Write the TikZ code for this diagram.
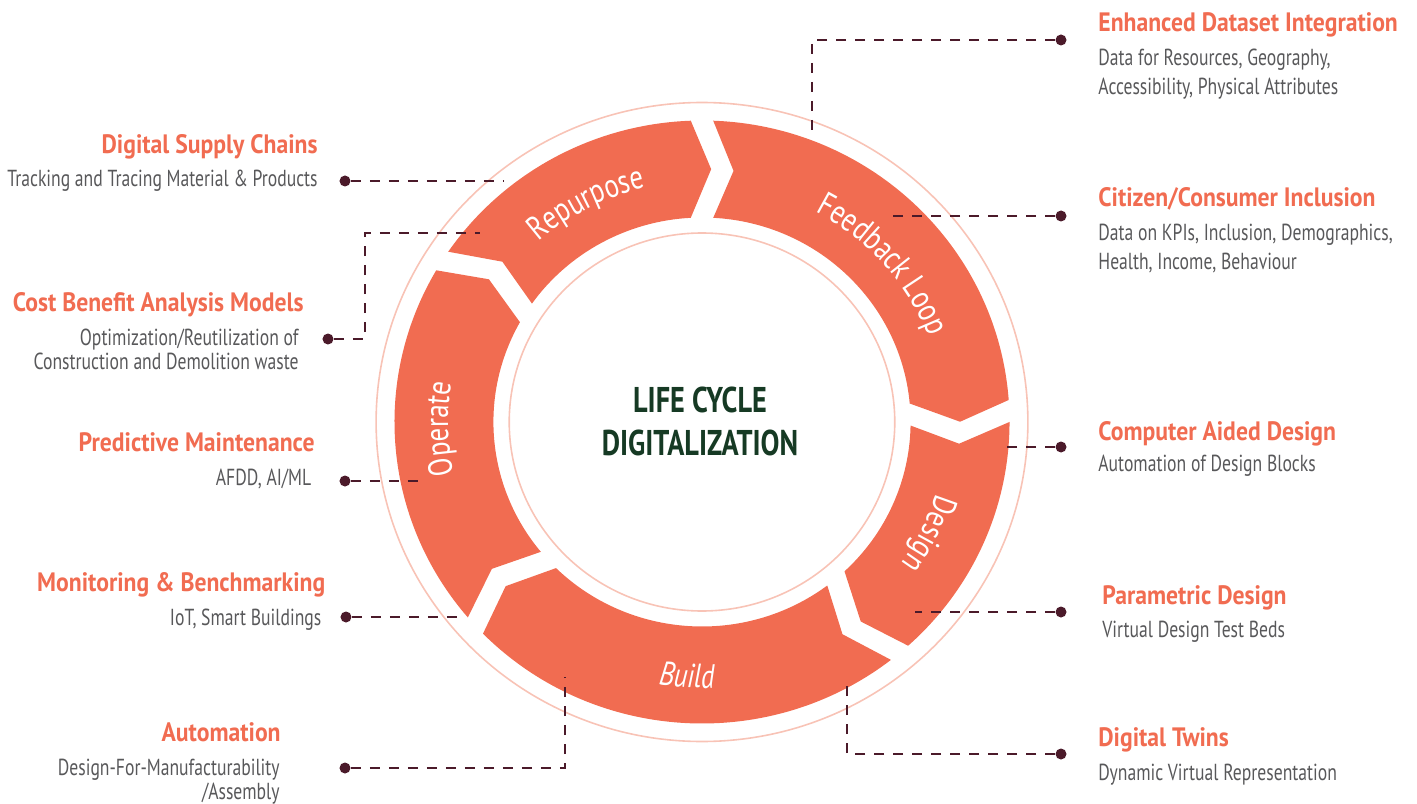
\documentclass[tikz,border=0pt]{standalone}
\usepackage{fontspec}
\usepackage{xcolor}
\usepackage{tikz}
\usetikzlibrary{decorations.text}
\setmainfont{PT Sans}
\newfontfamily\headfont{PT Sans}[FakeStretch=0.89]
\newfontfamily\bodyfont{PT Sans}[FakeStretch=0.76]
\newfontfamily\ringfont{PT Sans}[FakeStretch=0.80]
\newfontfamily\hubfont{PT Sans}[FakeStretch=0.79]
\definecolor{coral}{HTML}{F16C51}
\definecolor{ringpink}{HTML}{F8C3B6}
\definecolor{hubgreen}{HTML}{163A24}
\definecolor{bodygray}{HTML}{58585A}
\definecolor{leadline}{HTML}{4B1A2A}

% Flecha del ciclo: de la frontera #1 a la frontera #2 (en sentido horario)
\newcommand{\cyclearrow}[2]{%
  \fill[coral] ({#1-2.09}:301.5) arc[start angle={#1-2.09}, end angle={#2+2.09}, radius=301.5]
    -- ({#2-2.04}:253) -- ({#2+3.09}:204.5)
    arc[start angle={#2+3.09}, end angle={#1-3.09}, radius=204.5]
    -- ({#1-7.02}:253) -- cycle;}

\begin{document}
\begin{tikzpicture}[x=0.5pt, y=0.5pt,
    ring/.style={draw=ringpink, line width=0.8pt},
    lead/.style={draw=leadline, line width=0.75pt, dash pattern=on 5pt off 4.5pt},
    dot/.style={circle, fill=leadline, inner sep=0pt, minimum size=5.5pt},
    head/.style={inner sep=0pt, text=coral, font=\headfont\bfseries\fontsize{13.3}{15}\selectfont},
    body/.style={inner sep=0pt, text=bodygray, font=\bodyfont\fontsize{11.6}{12}\selectfont},
    bodyr/.style={body, font=\bodyfont\fontsize{11.6}{14.5}\selectfont},
    segtext/.style={decorate, decoration={text along path, text align=center,
        text={|\ringfont\fontsize{16.8}{18}\selectfont\color{white}|#1}}}]
    \useasboundingbox (-702,-381) rectangle (715,422);

    % Anillo con las cinco etapas
    \begin{scope}[xscale=1.02]
        \draw[ring] (0,0) circle[radius=319.5];
        \draw[ring] (0,0) circle[radius=189];
        \cyclearrow{147.7}{90}
        \cyclearrow{90}{2.1}
        \cyclearrow{2.1}{-50}
        \cyclearrow{-50}{-137.5}
        \cyclearrow{222.5}{147.7}
        \path[segtext=Repurpose] (140:241) arc[start angle=140, end angle=95, radius=241];
        \path[segtext=Feedback Loop] (75:238) arc[start angle=75, end angle=8, radius=238];
        \path[segtext=Design] (-5:241) arc[start angle=-5, end angle=-48, radius=241];
        \path[segtext=Operate] (205:249) arc[start angle=205, end angle=158, radius=249];
        \path[decorate, decoration={text along path, text align=center,
            text={|\ringfont\itshape\fontsize{16.8}{18}\selectfont\color{white}|Build}}]
            (-115:266) arc[start angle=-115, end angle=-71.6, radius=266];
    \end{scope}

    % Texto central
    \node[font=\hubfont\bfseries\fontsize{17.9}{21.5}\selectfont, text=hubgreen, align=center] (hub) at (-2,1)
        {LIFE CYCLE\\DIGITALIZATION};

    % Columna izquierda
    \node[head, anchor=base east] (dsc) at (-384,268.7) {Digital Supply Chains};
    \node[body, anchor=base east] (dsc-txt) at (-384,235.3) {Tracking and Tracing Material \& Products};
    \node[head, anchor=base east] (cba) at (-398,110.3) {Cost Benefit Analysis Models};
    \node[body, anchor=base east] (cba-txt) at (-403,77)
        {\begin{tabular}[t]{@{}r@{}}Optimization/Reutilization of\\Construction and Demolition waste\end{tabular}};
    \node[head, anchor=base east] (pm) at (-387,-29.7) {Predictive Maintenance};
    \node[body, anchor=base east] (pm-txt) at (-390.3,-63) {AFDD, AI/ML};
    \node[head, anchor=base east] (mb) at (-376.3,-169.7) {Monitoring \& Benchmarking};
    \node[body, anchor=base east] (mb-txt) at (-380.3,-203) {IoT, Smart Buildings};
    \node[head, anchor=base east] (auto) at (-421,-319.7) {Automation};
    \node[body, anchor=base east] (auto-txt) at (-422,-353)
        {\begin{tabular}[t]{@{}r@{}}Design-For-Manufacturability\\/Assembly\end{tabular}};

    % Columna derecha
    \node[head, anchor=base west] (edi) at (396,390) {Enhanced Dataset Integration};
    \node[bodyr, anchor=base west] (edi-txt) at (396,356)
        {\begin{tabular}[t]{@{}l@{}}Data for Resources, Geography,\\Accessibility, Physical Attributes\end{tabular}};
    \node[head, anchor=base west] (cci) at (396,215) {Citizen/Consumer Inclusion};
    \node[bodyr, anchor=base west] (cci-txt) at (396,181)
        {\begin{tabular}[t]{@{}l@{}}Data on KPIs, Inclusion, Demographics,\\Health, Income, Behaviour\end{tabular}};
    \node[head, anchor=base west] (cad) at (396,-18) {Computer Aided Design};
    \node[bodyr, anchor=base west] (cad-txt) at (396,-49.7) {Automation of Design Blocks};
    \node[head, anchor=base west] (pd) at (400,-182) {Parametric Design};
    \node[bodyr, anchor=base west] (pd-txt) at (400,-215.3) {Virtual Design Test Beds};
    \node[head, anchor=base west] (dt) at (396,-324.7) {Digital Twins};
    \node[bodyr, anchor=base west] (dt-txt) at (396,-358) {Dynamic Virtual Representation};

    % Puntos y lineas de referencia
    \node[dot] (dsc-dot) at (-357,241) {};
    \node[dot] (cba-dot) at (-374,83) {};
    \node[dot] (pm-dot) at (-357,-59) {};
    \node[dot] (mb-dot) at (-356,-195) {};
    \node[dot] (auto-dot) at (-357,-346) {};
    \node[dot] (edi-dot) at (359,382) {};
    \node[dot] (cci-dot) at (359,206) {};
    \node[dot] (cad-dot) at (359,-25) {};
    \node[dot] (pd-dot) at (359,-190) {};
    \node[dot] (dt-dot) at (359,-332) {};
    \coordinate (dsc-end) at (-198,241);
    \coordinate (cba-end) at (-222,189);
    \coordinate (pm-end) at (-280,-59);
    \coordinate (mb-end) at (-243,-195);
    \coordinate (auto-end) at (-137,-255);
    \coordinate (edi-end) at (110,291);
    \coordinate (cci-end) at (190,206);
    \coordinate (cad-end) at (304,-25);
    \coordinate (pd-end) at (213,-190);
    \coordinate (dt-end) at (145,-256);
    \draw[lead] (dsc-dot) -- (dsc-end);
    \draw[lead] (cba-dot) -| (-337,189) -- (cba-end);
    \draw[lead] (pm-dot) -- (pm-end);
    \draw[lead] (mb-dot) -- (mb-end);
    \draw[lead] (auto-dot) -| (auto-end);
    \draw[lead] (edi-dot) -| (edi-end);
    \draw[lead] (cci-dot) -- (cci-end);
    \draw[lead] (cad-dot) -- (cad-end);
    \draw[lead] (pd-dot) -- (pd-end);
    \draw[lead] (dt-dot) -| (dt-end);
\end{tikzpicture}
\end{document}
